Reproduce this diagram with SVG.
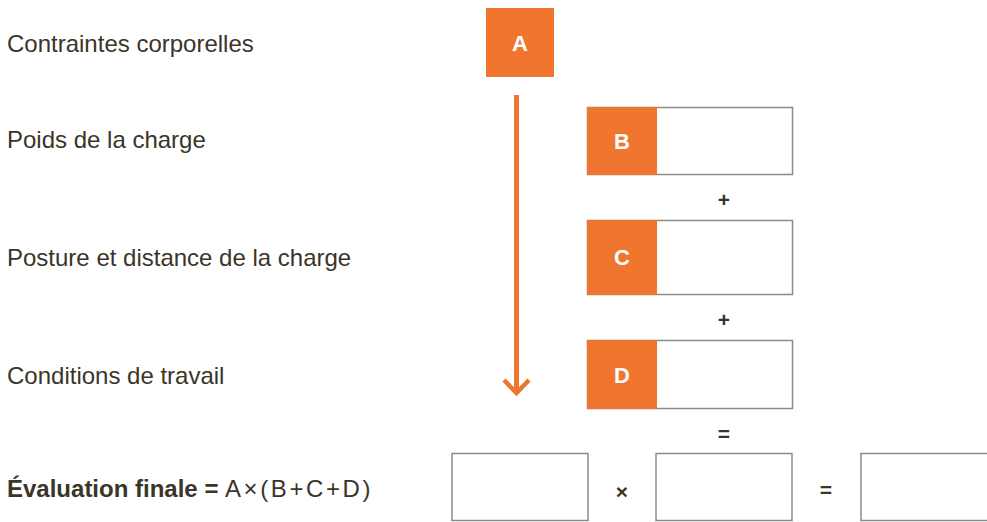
<svg xmlns="http://www.w3.org/2000/svg" width="987" height="522" viewBox="0 0 987 522">
<style>
.lbl{font-family:"Liberation Sans",Arial,sans-serif;font-size:24px;fill:#3a3528}
.let{font-family:"Liberation Sans",Arial,sans-serif;font-size:22px;font-weight:bold;fill:#fff;text-anchor:middle}
.op{font-family:"Liberation Sans",Arial,sans-serif;font-size:21px;font-weight:bold;fill:#3a3528;text-anchor:middle}
.box{fill:#fff;stroke:#8c8c87;stroke-width:1.5}
.or{fill:#f07630}
</style>
<rect width="987" height="522" fill="#fff"/>
<g id="labels">
<text class="lbl" x="7" y="52">Contraintes corporelles</text>
<text class="lbl" x="7" y="148">Poids de la charge</text>
<text class="lbl" x="7" y="266">Posture et distance de la charge</text>
<text class="lbl" x="7" y="384">Conditions de travail</text>
<text class="lbl" x="7" y="497"><tspan font-weight="bold">Évaluation finale =</tspan><tspan x="225" letter-spacing="2.6">A×(B+C+D)</tspan></text>
</g>
<g id="nodeA">
<rect class="or" x="486" y="8" width="68" height="69"/>
<text class="let" x="520" y="51">A</text>
</g>
<g id="nodeB">
<rect class="box" x="587.5" y="107.5" width="205" height="67"/>
<rect class="or" x="587" y="107" width="70" height="68"/>
<text class="let" x="622" y="149">B</text>
</g>
<g id="nodeC">
<rect class="box" x="587.5" y="220.5" width="205" height="74"/>
<rect class="or" x="587" y="220" width="70" height="75"/>
<text class="let" x="622" y="265">C</text>
</g>
<g id="nodeD">
<rect class="box" x="587.5" y="340.5" width="205" height="68"/>
<rect class="or" x="587" y="340" width="70" height="69"/>
<text class="let" x="622" y="383">D</text>
</g>
<g id="result1"><rect class="box" x="452" y="453.5" width="136" height="67"/></g>
<g id="result2"><rect class="box" x="656" y="453.5" width="136" height="67"/></g>
<g id="result3"><rect class="box" x="861" y="453.5" width="136" height="67"/></g>
<g id="operators">
<text class="op" x="724" y="207">+</text>
<text class="op" x="724" y="327">+</text>
<text class="op" x="724" y="441">=</text>
<text class="op" x="622" y="499">×</text>
<text class="op" x="826" y="497">=</text>
</g>
<g id="connectors">
<line x1="516.5" y1="95" x2="516.5" y2="394" stroke="#f07630" stroke-width="5"/>
<polyline points="504,380 516.5,393 529,380" fill="none" stroke="#f07630" stroke-width="4.5"/>
</g>
</svg>
